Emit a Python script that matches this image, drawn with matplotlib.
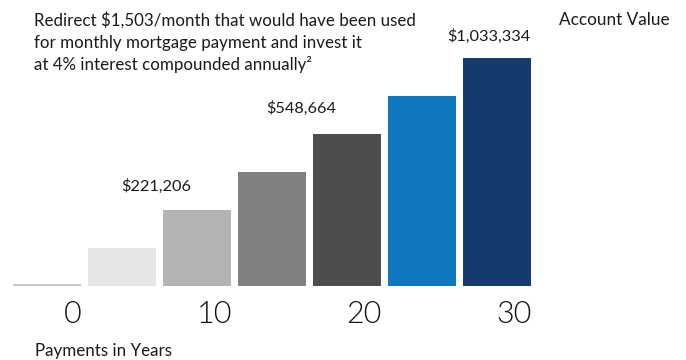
import matplotlib
matplotlib.use("Agg")
import matplotlib.pyplot as plt

plt.rcParams['font.family'] = ['Lato', 'DejaVu Sans']

years = [0, 5, 10, 15, 20, 25, 30]
# bar heights as drawn (illustrative scale, not proportional to the dollar labels)
bar_heights = [0.04, 1, 2, 3, 4, 5, 6]
bar_colors = ["#c8c8c8", "#e6e6e6", "#b3b3b3", "#808080", "#4c4d4c", "#1078be", "#143a6e"]
tick_years = [0, 10, 20, 30]
value_labels = ["$221,206", "$548,664", "$1,033,334"]
note_lines = ["Redirect $1,503/month that would have been used",
              "for monthly mortgage payment and invest it",
              "at 4% interest compounded annually\u00b2"]

W, H = 686, 360
fig = plt.figure(figsize=(W / 100, H / 100), dpi=100)
ax = fig.add_axes([0, 0, 1, 1])

# 15 px per year, 38 px per height unit, baseline at 286 px from top
ax.set_xlim(-46.5 / 15, (W - 46.5) / 15)
ax.set_ylim(-(H - 286) / 38, 286 / 38)
ax.axis("off")

ax.bar(years, bar_heights, width=68 / 15, color=bar_colors, bottom=0)

txt = "#1a1a1a"

def px(x, y):
    return x / W, 1 - y / H

for yr in tick_years:
    ax.text(yr + 34 / 15 + 0.1, -37 / 38, str(yr), ha="right", va="baseline",
            fontsize=22, fontweight=300, color="#111111")

# value labels, placed where they sit in the picture
label_pos = [(156, 191), (301.5, 113), (488.5, 41)]
for (x, y), lab in zip(label_pos, value_labels):
    fig.text(*px(x, y), lab, ha="center", va="baseline", fontsize=11.8, color=txt)

for i, line in enumerate(note_lines):
    fig.text(*px(34, 26 + 22 * i), line, ha="left", va="baseline", fontsize=12.2, color=txt)

fig.text(*px(559, 25), "Account Value", ha="left", va="baseline", fontsize=12.3, color=txt)
fig.text(*px(35, 356), "Payments in Years", ha="left", va="baseline", fontsize=12.2, color=txt)

fig.savefig("out.png", dpi=100)
